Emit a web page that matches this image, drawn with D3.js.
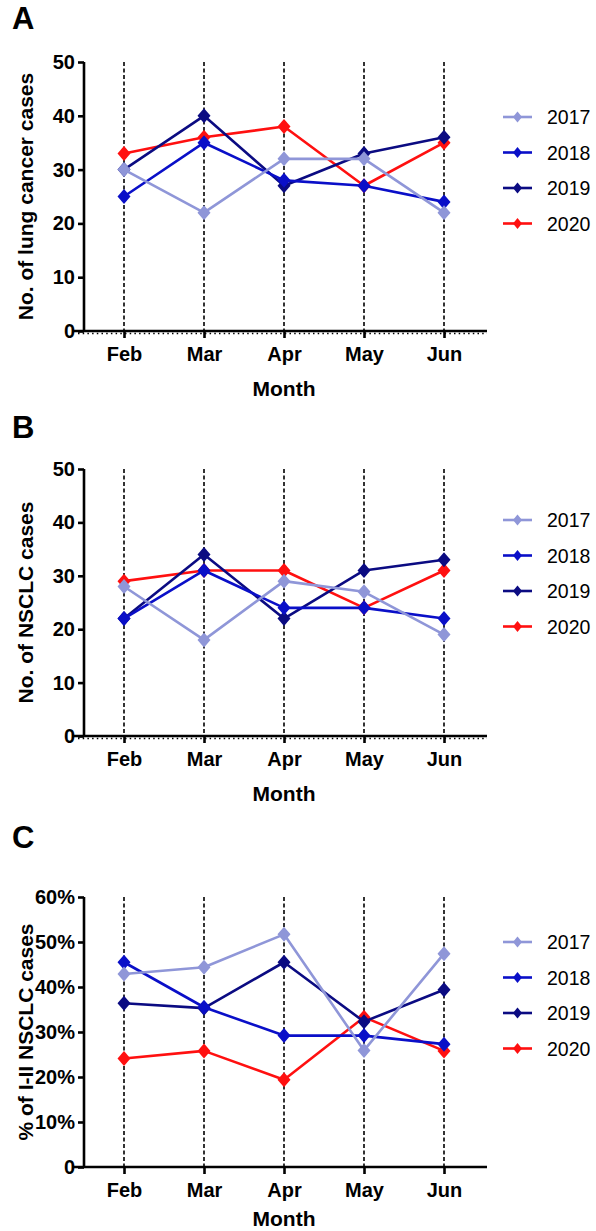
<!DOCTYPE html>
<html>
<head>
<meta charset="utf-8">
<script src="https://cdn.jsdelivr.net/npm/d3@7"></script>
<style>
  html, body { margin: 0; padding: 0; background: #fff; }
  svg { display: block; }
  text { font-family: Arial, "Liberation Sans", sans-serif; }
</style>
</head>
<body>
<svg id="chart" width="596" height="1231"></svg>
<script>
// ---------- DATA ----------
const months = ["Feb", "Mar", "Apr", "May", "Jun"];
const years = ["2017", "2018", "2019", "2020"];

// Panel A: No. of lung cancer cases
const lung2017 = [30, 22, 32, 32, 22];
const lung2018 = [25, 35, 28, 27, 24];
const lung2019 = [30, 40, 27, 33, 36];
const lung2020 = [33, 36, 38, 27, 35];

// Panel B: No. of NSCLC cases
const nsclc2017 = [28, 18, 29, 27, 19];
const nsclc2018 = [22, 31, 24, 24, 22];
const nsclc2019 = [22, 34, 22, 31, 33];
const nsclc2020 = [29, 31, 31, 24, 31];

// Panel C: % of I-II NSCLC cases
const early2017 = [42.9, 44.4, 51.7, 25.9, 47.4];
const early2018 = [45.5, 35.5, 29.2, 29.2, 27.3];
const early2019 = [36.4, 35.3, 45.5, 32.3, 39.4];
const early2020 = [24.1, 25.8, 19.4, 33.3, 25.8];

const countTicks = [0, 10, 20, 30, 40, 50];
const pctTicks = [0, 10, 20, 30, 40, 50, 60];

const yearColors = ["#8f96d8", "#0a0fc8", "#0b0b82", "#ff1010"];

// ---------- LAYOUT ----------
const panels = [
  { letter: "A", letterY: 29, top: 62, bottom: 331, domain: [0, 50], ticks: countTicks,
    fmt: d => String(d), title: "No. of lung cancer cases", monthOffset: 65,
    series: [lung2017, lung2018, lung2019, lung2020], legendY: 117, zeroDots: true },
  { letter: "B", letterY: 438, top: 469, bottom: 736, domain: [0, 50], ticks: countTicks,
    fmt: d => String(d), title: "No. of NSCLC cases", monthOffset: 65,
    series: [nsclc2017, nsclc2018, nsclc2019, nsclc2020], legendY: 520, zeroDots: true },
  { letter: "C", letterY: 848, top: 897, bottom: 1167, domain: [0, 60], ticks: pctTicks,
    fmt: d => d === 0 ? "0" : d + "%", title: "% of I-II NSCLC cases", monthOffset: 59,
    series: [early2017, early2018, early2019, early2020], legendY: 942, zeroDots: false }
];

const svg = d3.select("#chart");
const x = d3.scalePoint().domain(months).range([124, 444]);
const axisX0 = 84, xLineLeft = 72, xLineRight = 487;

function diamond(g, cx, cy, w, h, color) {
  g.append("path")
    .attr("d", `M${cx},${cy - h}L${cx + w},${cy}L${cx},${cy + h}L${cx - w},${cy}Z`)
    .attr("fill", color);
}

panels.forEach(p => {
  const g = svg.append("g");
  const y = d3.scaleLinear().domain(p.domain).range([p.bottom, p.top]);

  // panel letter
  g.append("text").attr("x", 12).attr("y", p.letterY)
    .attr("font-size", 31).attr("font-weight", "bold").text(p.letter);

  // dashed vertical reference lines
  months.forEach(m => {
    g.append("line")
      .attr("x1", x(m)).attr("x2", x(m))
      .attr("y1", p.top).attr("y2", p.bottom)
      .attr("stroke", "#000").attr("stroke-width", 1.6)
      .attr("stroke-dasharray", "4,2.5");
  });

  // y axis
  const yAxis = d3.axisLeft(y).tickValues(p.ticks).tickFormat(p.fmt).tickSize(6).tickPadding(3);
  const ya = g.append("g").attr("transform", `translate(${axisX0},0)`).call(yAxis);
  ya.select(".domain").attr("d", `M0,${p.top}V${p.bottom}`).attr("stroke-width", 2.6);
  ya.selectAll(".tick line").attr("stroke-width", 2.6);
  ya.selectAll(".tick text").attr("font-size", 20).attr("font-weight", "bold")
    .attr("font-family", "Arial, 'Liberation Sans', sans-serif").attr("fill", "#000");

  // x axis
  const xAxis = d3.axisBottom(x).tickSize(7).tickPadding(9);
  const xa = g.append("g").attr("transform", `translate(0,${p.bottom})`).call(xAxis);
  xa.select(".domain").attr("d", `M${xLineLeft},0H${xLineRight}`).attr("stroke-width", 2.6);
  xa.selectAll(".tick line").attr("stroke-width", 2.6);
  xa.selectAll(".tick text").attr("font-size", 20).attr("font-weight", "bold")
    .attr("font-family", "Arial, 'Liberation Sans', sans-serif").attr("fill", "#000");

  if (p.zeroDots) {
    g.append("line")
      .attr("x1", xLineLeft + 6).attr("x2", xLineRight)
      .attr("y1", p.bottom + 2.5).attr("y2", p.bottom + 2.5)
      .attr("stroke", "#000").attr("stroke-width", 1.6)
      .attr("stroke-dasharray", "1.5,3.2");
  }

  // axis titles
  g.append("text")
    .attr("transform", `translate(33,${(p.top + p.bottom) / 2}) rotate(-90)`)
    .attr("text-anchor", "middle").attr("font-size", 21).attr("font-weight", "bold")
    .text(p.title);
  g.append("text").attr("x", (x("Feb") + x("Jun")) / 2).attr("y", p.bottom + p.monthOffset)
    .attr("text-anchor", "middle").attr("font-size", 21).attr("font-weight", "bold")
    .text("Month");

  // series (drawn last year first so 2017 ends on top)
  const line = d3.line().x((d, i) => x(months[i])).y(d => y(d));
  for (let k = years.length - 1; k >= 0; k--) {
    const vals = p.series[k];
    g.append("path").datum(vals).attr("d", line)
      .attr("fill", "none").attr("stroke", yearColors[k]).attr("stroke-width", 2.6)
      .attr("stroke-linejoin", "round");
    vals.forEach((v, i) => diamond(g, x(months[i]), y(v), 6.5, 7.5, yearColors[k]));
  }

  // legend
  years.forEach((yr, k) => {
    const ly = p.legendY + k * 35.5;
    g.append("line").attr("x1", 503).attr("x2", 532).attr("y1", ly).attr("y2", ly)
      .attr("stroke", yearColors[k]).attr("stroke-width", 2.6);
    diamond(g, 517.5, ly, 4.5, 5.5, yearColors[k]);
    g.append("text").attr("x", 547).attr("y", ly + 7).attr("font-size", 19.5)
      .attr("fill", "#000").text(yr);
  });
});
</script>
</body>
</html>
